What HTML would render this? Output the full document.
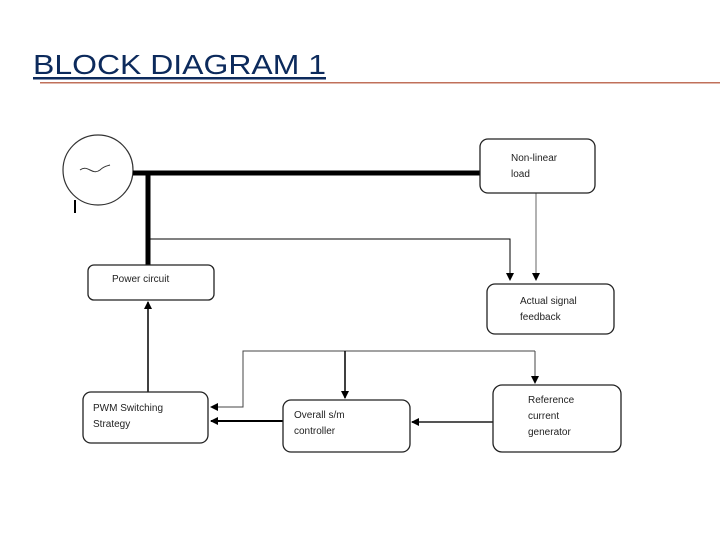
<!DOCTYPE html>
<html><head><meta charset="utf-8"><style>
body{margin:0;width:720px;height:540px;background:#fff;overflow:hidden}
svg{display:block}
.t{font-family:"Liberation Sans",sans-serif;font-size:10px;fill:#222}
</style></head><body>
<svg width="720" height="540" viewBox="0 0 720 540">
<defs><marker id="a" markerWidth="8" markerHeight="8" refX="7" refY="4" orient="auto" markerUnits="userSpaceOnUse"><path d="M0,0 L8,4 L0,8z" fill="#000"/></marker></defs>
<text x="33" y="74" font-family="Liberation Sans,sans-serif" font-size="28" fill="#0c2a5c" textLength="293" lengthAdjust="spacingAndGlyphs">BLOCK DIAGRAM 1</text>
<rect x="33" y="77" width="293" height="2.5" fill="#0c2a5c"/>
<rect x="40" y="82" width="680" height="1.5" fill="#c0705a"/>
<circle cx="98" cy="170" r="35" fill="none" stroke="#333" stroke-width="1.2"/>
<path d="M80,170 C88,164 92,176 100,170 C104,166 107,166 110,165" fill="none" stroke="#333"/>
<rect x="74" y="200" width="2" height="13" fill="#000"/>
<g stroke="#000" fill="none">
<line x1="133" y1="173" x2="482" y2="173" stroke-width="5"/>
<line x1="148" y1="173" x2="148" y2="265" stroke-width="5"/>
<polyline points="150,239 510,239 510,280" stroke-width="1" marker-end="url(#a)"/>
<line x1="536" y1="193" x2="536" y2="280" stroke="#666" marker-end="url(#a)"/>
<line x1="148" y1="395" x2="148" y2="302" stroke-width="1.5" marker-end="url(#a)"/>
<polyline points="535,351 243,351 243,407 211,407" stroke="#444" marker-end="url(#a)"/>
<line x1="535" y1="351" x2="535" y2="383" stroke="#444" marker-end="url(#a)"/>
<line x1="345" y1="351" x2="345" y2="398" stroke-width="1.5" marker-end="url(#a)"/>
<line x1="493" y1="422" x2="412" y2="422" stroke="#555" stroke-width="2" marker-end="url(#a)"/>
<line x1="283" y1="421" x2="211" y2="421" stroke-width="2" marker-end="url(#a)"/>
</g>
<g fill="#fff" stroke="#222" stroke-width="1.3">
<rect x="88" y="265" width="126" height="35" rx="6"/>
<rect x="480" y="139" width="115" height="54" rx="8"/>
<rect x="487" y="284" width="127" height="50" rx="8"/>
<rect x="83" y="392" width="125" height="51" rx="8"/>
<rect x="283" y="400" width="127" height="52" rx="8"/>
<rect x="493" y="385" width="128" height="67" rx="9"/>
</g>
<text class="t" x="112" y="282">Power circuit</text>
<text class="t" x="511" y="161">Non-linear</text><text class="t" x="511" y="177">load</text>
<text class="t" x="520" y="304">Actual signal</text><text class="t" x="520" y="320">feedback</text>
<text class="t" x="93" y="411">PWM Switching</text><text class="t" x="93" y="427">Strategy</text>
<text class="t" x="294" y="418">Overall s/m</text><text class="t" x="294" y="434">controller</text>
<text class="t" x="528" y="403">Reference</text><text class="t" x="528" y="419">current</text><text class="t" x="528" y="435">generator</text>
</svg>
</body></html>
